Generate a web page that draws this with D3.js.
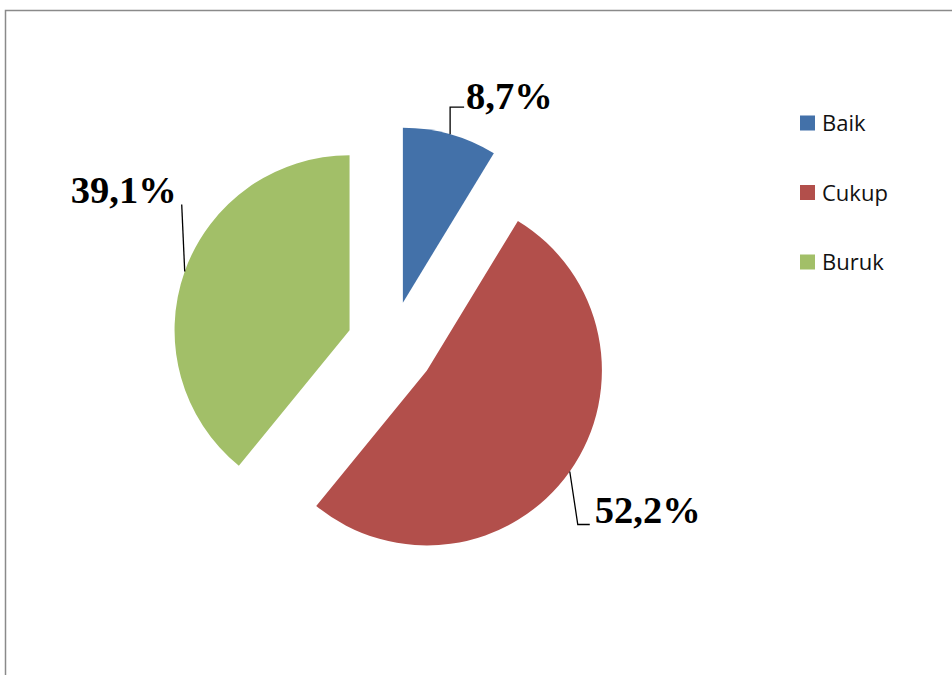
<!DOCTYPE html>
<html>
<head>
<meta charset="utf-8">
<script src="https://cdn.jsdelivr.net/npm/d3@7"></script>
<style>
  html, body { margin: 0; padding: 0; background: #ffffff; }
  svg { display: block; }
</style>
</head>
<body>
<svg id="chart" width="952" height="675"></svg>
<script>
// ---- data ----
const categories = ["Baik", "Cukup", "Buruk"];
const values = [8.7, 52.2, 39.1];
const valueLabels = ["8,7%", "52,2%", "39,1%"];
const colors = ["#4371A9", "#B24F4B", "#A2BF68"];

// ---- layout ----
const W = 952, H = 675;
const cx = 391, cy = 345, R = 175, explode = 44;
const svg = d3.select("#chart");

// chart frame (extends beyond the window on the right and bottom)
svg.append("path")
  .attr("d", `M${W + 5},10.5 H5.5 V${H + 5}`)
  .attr("fill", "none")
  .attr("stroke", "#8a8a8a")
  .attr("stroke-width", 1.5);

const pie = d3.pie().sort(null).value(d => d).startAngle(0).endAngle(2 * Math.PI);
const arcs = pie(values);
const arc = d3.arc().innerRadius(0).outerRadius(R);

const g = svg.append("g").attr("transform", `translate(${cx},${cy})`);

arcs.forEach((a, i) => {
  const mid = (a.startAngle + a.endAngle) / 2;
  const ux = Math.sin(mid), uy = -Math.cos(mid);
  const ox = ux * explode, oy = uy * explode;
  g.append("path")
    .attr("d", arc(a))
    .attr("transform", `translate(${ox},${oy})`)
    .attr("fill", colors[i]);
});

// leader lines + labels (elbow offsets relative to mid-arc point)
const leaderLayout = [
  { dx: 0, dy: -27, hx: 14, anchor: "start", tx: 2, ty: 2 },
  { dx: 8, dy: 53, hx: 12, anchor: "start", tx: 5, ty: -1 },
  { dx: -3, dy: -67, hx: 0, anchor: "end", tx: -5, ty: -1 }
];

arcs.forEach((a, i) => {
  const mid = (a.startAngle + a.endAngle) / 2;
  const ux = Math.sin(mid), uy = -Math.cos(mid);
  const sx = cx + ux * (explode + R), sy = cy + uy * (explode + R);
  const L = leaderLayout[i];
  const ex = sx + L.dx, ey = sy + L.dy;
  const fx = ex + L.hx;
  svg.append("path")
    .attr("d", `M${sx},${sy} L${ex},${ey} L${fx},${ey}`)
    .attr("fill", "none")
    .attr("stroke", "#000")
    .attr("stroke-width", 1.3);
  svg.append("text")
    .attr("x", fx + L.tx)
    .attr("y", ey + L.ty)
    .attr("text-anchor", L.anchor)
    .attr("font-family", "'Liberation Serif', 'Times New Roman', serif")
    .attr("font-weight", "bold")
    .attr("font-size", 38.5)
    .attr("fill", "#000")
    .text(valueLabels[i]);
});

// legend
const legendY = d3.scalePoint().domain(categories).range([123, 262]);
const legend = svg.append("g");
categories.forEach((c, i) => {
  const y = legendY(c);
  legend.append("rect")
    .attr("x", 800).attr("y", y - 7.5)
    .attr("width", 15).attr("height", 15)
    .attr("fill", colors[i]);
  legend.append("text")
    .attr("x", 822).attr("y", y + 8)
    .attr("font-family", "'Open Sans', 'Noto Sans', sans-serif")
    .attr("font-size", 22)
    .attr("fill", "#111")
    .text(c);
});
</script>
</body>
</html>
